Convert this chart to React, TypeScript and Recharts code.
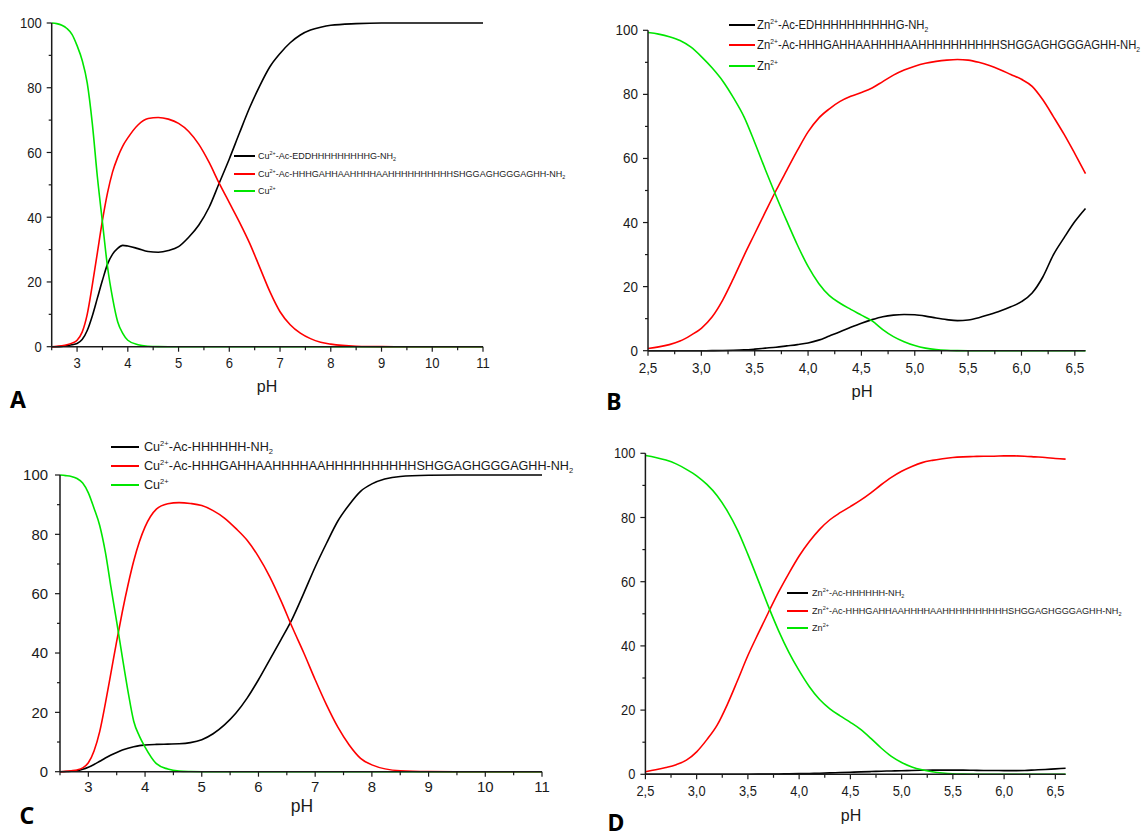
import React from 'react';
import { LineChart, Line, XAxis, YAxis, Legend } from 'recharts';

const FONT = '"Liberation Sans", Arial, Helvetica, sans-serif';
const AXIS = '#1a1a1a';
const TEXT = '#1a1a1a';
const C_BLACK = '#000000';
const C_RED = '#ff0000';
const C_GREEN = '#00e600';

// ---------- shared ticks ----------
const yTicks = [0, 10, 20, 30, 40, 50, 60, 70, 80, 90, 100];
const yMajor = [0, 20, 40, 60, 80, 100];
const yLabels = ['0', '20', '40', '60', '80', '100'];
const xTicksAC = [2.5, 3, 3.5, 4, 4.5, 5, 5.5, 6, 6.5, 7, 7.5, 8, 8.5, 9, 9.5, 10, 10.5, 11];
const xMajorAC = [3, 4, 5, 6, 7, 8, 9, 10, 11];
const xLabelsAC = ['3', '4', '5', '6', '7', '8', '9', '10', '11'];
const xTicksBD = [2.5, 2.75, 3, 3.25, 3.5, 3.75, 4, 4.25, 4.5, 4.75, 5, 5.25, 5.5, 5.75, 6, 6.25, 6.5];
const xMajorBD = [2.5, 3, 3.5, 4, 4.5, 5, 5.5, 6, 6.5];
const xLabelsBD = ['2,5', '3,0', '3,5', '4,0', '4,5', '5,0', '5,5', '6,0', '6,5'];

// ---------- Panel A (Cu2+, EDD peptide) ----------
const phA = [2.5, 2.6, 2.7, 2.8, 2.9, 3.0, 3.1, 3.2, 3.3, 3.4, 3.5, 3.6, 3.7, 3.8, 3.9, 4.0, 4.2, 4.4, 4.6, 4.8, 5.0, 5.2, 5.4, 5.6, 5.8, 6.0, 6.2, 6.4, 6.6, 6.8, 7.0, 7.2, 7.4, 7.6, 7.8, 8.0, 8.5, 9.0, 9.5, 10, 10.5, 11];
const blackA = [0, 0, 0.1, 0.3, 0.6, 1.0, 2.2, 5, 9.5, 15, 20.5, 25.5, 28.6, 30.4, 31.3, 31.1, 30.3, 29.4, 29.2, 29.7, 30.9, 33.8, 37.6, 43, 50.5, 58, 66, 73.8, 80.6, 86.5, 90.6, 93.9, 96.3, 97.8, 98.7, 99.3, 99.8, 100, 100, 100, 100, 100];
const redA = [0, 0.1, 0.3, 0.6, 1.1, 2, 4.5, 10, 19, 29, 39, 47.5, 54, 58.5, 62, 64.5, 68.5, 70.5, 70.8, 70.3, 69, 66.5, 62.5, 57, 50.5, 44.5, 38.5, 32, 24.5, 17, 10.8, 6.8, 4.2, 2.5, 1.4, 0.8, 0.15, 0.02, 0, 0, 0, 0];
const greenA = [100, 99.8, 99.3, 98.3, 96.5, 93, 88.5, 81.5, 69, 52.5, 38.5, 24.7, 15, 7.7, 4.1, 2, 0.6, 0.15, 0.03, 0, 0, 0, 0, 0, 0, 0, 0, 0, 0, 0, 0, 0, 0, 0, 0, 0, 0, 0, 0, 0, 0, 0];
const namesA = ['Cu2+-Ac-EDDHHHHHHHHHG-NH2', 'Cu2+-Ac-HHHGAHHAAHHHHAAHHHHHHHHHHSHGGAGHGGGAGHH-NH2', 'Cu2+'];

// ---------- Panel B (Zn2+, ED peptide) ----------
const phB = [2.5, 2.6, 2.7, 2.8, 2.9, 3.0, 3.1, 3.2, 3.3, 3.4, 3.5, 3.6, 3.7, 3.8, 3.9, 4.0, 4.1, 4.2, 4.3, 4.4, 4.5, 4.6, 4.7, 4.8, 4.9, 5.0, 5.1, 5.2, 5.3, 5.4, 5.5, 5.6, 5.7, 5.8, 5.9, 6.0, 6.1, 6.2, 6.3, 6.4, 6.5, 6.6];
const blackB = [0, 0, 0, 0, 0, 0, 0.02, 0.05, 0.12, 0.25, 0.5, 0.8, 1.1, 1.5, 1.9, 2.4, 3.3, 4.6, 5.9, 7.3, 8.6, 9.7, 10.6, 11.1, 11.3, 11.2, 10.8, 10.2, 9.7, 9.4, 9.6, 10.3, 11.3, 12.4, 13.7, 15.3, 18, 23, 30, 35.3, 40.3, 44.4];
const redB = [0.7, 1.2, 1.9, 3.0, 4.8, 7, 10.5, 15.8, 22.5, 29.7, 36.5, 43.3, 50, 56.3, 62.5, 68.3, 72.6, 75.5, 77.8, 79.4, 80.6, 82, 84, 86, 87.6, 88.8, 89.7, 90.3, 90.7, 90.9, 90.7, 90, 89, 87.7, 86.2, 84.7, 82.5, 78.3, 73, 67.5, 61.5, 55.3];
const greenB = [99.3, 98.8, 98, 96.8, 94.8, 91.8, 88.3, 84.2, 79, 73, 65, 56.5, 48.3, 40.5, 33, 26.3, 21, 17.2, 14.8, 12.9, 11.1, 9.3, 6.6, 4.4, 2.8, 1.6, 0.8, 0.35, 0.12, 0.03, 0, 0, 0, 0, 0, 0, 0, 0, 0, 0, 0, 0];
const namesB = ['Zn2+-Ac-EDHHHHHHHHHHG-NH2', 'Zn2+-Ac-HHHGAHHAAHHHHAAHHHHHHHHHHSHGGAGHGGGAGHH-NH2', 'Zn2+'];

// ---------- Panel C (Cu2+, H6 peptide) ----------
const phC = [2.5, 2.6, 2.7, 2.8, 2.9, 3.0, 3.1, 3.2, 3.3, 3.4, 3.5, 3.6, 3.7, 3.8, 3.9, 4.0, 4.2, 4.4, 4.6, 4.8, 5.0, 5.2, 5.4, 5.6, 5.8, 6.0, 6.2, 6.4, 6.6, 6.8, 7.0, 7.2, 7.4, 7.6, 7.8, 8.0, 8.5, 9.0, 9.5, 10, 10.5, 11];
const blackC = [0, 0.05, 0.15, 0.3, 0.8, 1.5, 2.4, 3.5, 4.6, 5.6, 6.5, 7.3, 7.9, 8.4, 8.8, 9.0, 9.2, 9.3, 9.4, 9.8, 10.8, 12.8, 15.8, 19.7, 24.8, 31, 37.8, 44.6, 51.7, 60.2, 69, 77, 84.5, 90, 94.5, 97, 99.5, 99.9, 100, 100, 100, 100];
const redC = [0, 0.1, 0.3, 0.6, 1.3, 3, 7, 13.5, 23, 33.5, 44, 54, 63, 71, 77.5, 82.5, 88.5, 90.3, 90.7, 90.4, 89.7, 88, 85.5, 82, 78, 72.5, 65.7, 57.5, 48.5, 40, 31, 22.5, 15, 9, 4.5, 2.3, 0.3, 0.05, 0, 0, 0, 0];
const greenC = [100, 99.8, 99.5, 98.8, 97.3, 94, 88.8, 83, 74, 62, 50.5, 38.5, 27, 17, 12, 8.3, 2.7, 0.9, 0.2, 0.05, 0, 0, 0, 0, 0, 0, 0, 0, 0, 0, 0, 0, 0, 0, 0, 0, 0, 0, 0, 0, 0, 0];
const namesC = ['Cu2+-Ac-HHHHHH-NH2', 'Cu2+-Ac-HHHGAHHAAHHHHAAHHHHHHHHHHSHGGAGHGGGAGHH-NH2', 'Cu2+'];

// ---------- Panel D (Zn2+, H6 peptide) ----------
const phD = [2.5, 2.6, 2.7, 2.8, 2.9, 3.0, 3.1, 3.2, 3.3, 3.4, 3.5, 3.6, 3.7, 3.8, 3.9, 4.0, 4.1, 4.2, 4.3, 4.4, 4.5, 4.6, 4.7, 4.8, 4.9, 5.0, 5.1, 5.2, 5.3, 5.4, 5.5, 5.6, 5.7, 5.8, 5.9, 6.0, 6.1, 6.2, 6.3, 6.4, 6.5, 6.6];
const blackD = [0, 0, 0, 0, 0, 0, 0, 0, 0, 0, 0.03, 0.05, 0.08, 0.1, 0.15, 0.2, 0.25, 0.35, 0.45, 0.55, 0.65, 0.75, 0.85, 0.95, 1.05, 1.1, 1.2, 1.25, 1.3, 1.3, 1.3, 1.3, 1.25, 1.2, 1.2, 1.15, 1.15, 1.2, 1.35, 1.5, 1.7, 1.9];
const redD = [0.8, 1.4, 2.1, 3.0, 4.4, 7, 10.8, 15.3, 21.8, 29.3, 37, 43.8, 50.4, 56.8, 62.6, 68, 72.5, 76.3, 79.3, 81.5, 83.4, 85.4, 87.7, 90.2, 92.5, 94.4, 95.9, 97.1, 97.8, 98.3, 98.7, 98.9, 99, 99.1, 99.1, 99.2, 99.2, 99.1, 98.9, 98.7, 98.4, 98.2];
const greenD = [99.3, 98.7, 97.9, 96.7, 95, 93, 90.3, 86.8, 82, 76, 68.5, 60.5, 52.3, 44.7, 38, 32.3, 27.3, 23.3, 20.4, 18.2, 16.2, 14, 11.2, 8.2, 5.6, 3.7, 2.3, 1.4, 0.8, 0.4, 0.15, 0.05, 0, 0, 0, 0, 0, 0, 0, 0, 0, 0];
const namesD = ['Zn2+-Ac-HHHHHH-NH2', 'Zn2+-Ac-HHHGAHHAAHHHHAAHHHHHHHHHHSHGGAGHGGGAGHH-NH2', 'Zn2+'];

type Leg = { left: number; top: number; rowH: number; line: number; gap: number; fs: number; sx: number };
type P = {
  left: number; top: number; width: number; height: number;
  x0: number; x1: number; y0: number; y1: number;
  domain: [number, number];
  xTicks: number[]; xMajor: number[]; xLabels: string[];
  ph: number[]; black: number[]; red: number[]; green: number[]; names: string[];
  tickFs: number; tickSx: number; xLabelDy: number; yGap: number; leg: Leg;
};

// leg.top = centre of the first legend row (relative to panel), rowH = spacing between rows
const panels: P[] = [
  {
    left: 0, top: 0, width: 570, height: 420, x0: 51.7, x1: 483, y0: 23, y1: 346.7, domain: [2.5, 11],
    xTicks: xTicksAC, xMajor: xMajorAC, xLabels: xLabelsAC,
    ph: phA, black: blackA, red: redA, green: greenA, names: namesA,
    tickFs: 15, tickSx: 0.87, xLabelDy: 21.4, yGap: 10,
    leg: { left: 234, top: 156, rowH: 17.5, line: 21, gap: 3, fs: 9.3, sx: 0.97 },
  },
  {
    left: 580, top: 0, width: 563, height: 420, x0: 648, x1: 1085.5, y0: 30.3, y1: 350.7, domain: [2.5, 6.6],
    xTicks: xTicksBD, xMajor: xMajorBD, xLabels: xLabelsBD,
    ph: phB, black: blackB, red: redB, green: greenB, names: namesB,
    tickFs: 14, tickSx: 0.96, xLabelDy: 22, yGap: 10,
    leg: { left: 149, top: 25, rowH: 20.3, line: 26, gap: 2, fs: 12, sx: 0.94 },
  },
  {
    left: 0, top: 420, width: 570, height: 417, x0: 60, x1: 542, y0: 475, y1: 771.7, domain: [2.5, 11],
    xTicks: xTicksAC, xMajor: xMajorAC, xLabels: xLabelsAC,
    ph: phC, black: blackC, red: redC, green: greenC, names: namesC,
    tickFs: 14.5, tickSx: 1.03, xLabelDy: 20.2, yGap: 12,
    leg: { left: 111, top: 27, rowH: 19, line: 28, gap: 5, fs: 12.6, sx: 1 },
  },
  {
    left: 580, top: 420, width: 563, height: 417, x0: 645.4, x1: 1065.6, y0: 453.3, y1: 774.3, domain: [2.5, 6.6],
    xTicks: xTicksBD, xMajor: xMajorBD, xLabels: xLabelsBD,
    ph: phD, black: blackD, red: redD, green: greenD, names: namesD,
    tickFs: 14, tickSx: 0.92, xLabelDy: 21.4, yGap: 10,
    leg: { left: 207, top: 173, rowH: 17.5, line: 21, gap: 4, fs: 9.3, sx: 0.98 },
  },
];

const axisTitles = [
  { x: 267, y: 388, fs: 16 },
  { x: 862, y: 393, fs: 16.5 },
  { x: 302, y: 808, fs: 17.5 },
  { x: 851, y: 817, fs: 16 },
];
const LETTER_FS = 23;
const panelLetters = [
  { t: 'A', x: 18, y: 400 },
  { t: 'B', x: 614, y: 401.7 },
  { t: 'C', x: 27, y: 815.5 },
  { t: 'D', x: 616, y: 822.5 },
];

const supStyle: React.CSSProperties = { fontSize: '0.6em', position: 'relative', top: '-0.7em' };
const subStyle: React.CSSProperties = { fontSize: '0.6em', position: 'relative', top: '0.4em' };

function Formula({ text }: { text: string }) {
  const m = text.match(/^([A-Z][a-z]?)2\+(.*)$/);
  if (!m) return <>{text}</>;
  let rest = m[2];
  let sub: string | null = null;
  if (rest.endsWith('NH2')) {
    rest = rest.slice(0, -1);
    sub = '2';
  }
  return (
    <>
      {m[1]}
      <span style={supStyle}>2+</span>
      {rest}
      {sub && <span style={subStyle}>{sub}</span>}
    </>
  );
}

function LegendBox({ payload, p }: { payload: any[]; p: P }) {
  const items = [...(payload || [])].sort(
    (a, b) => p.names.indexOf(String(a.value)) - p.names.indexOf(String(b.value))
  );
  const leg = p.leg;
  const lh = 16;
  return (
    <div style={{ position: 'relative', fontFamily: FONT, fontSize: leg.fs, color: TEXT, whiteSpace: 'nowrap' }}>
      {items.map((e, i) => {
        const cy = Math.round(i * leg.rowH);
        return (
          <div key={i} style={{ position: 'absolute', left: 0, top: cy - lh / 2, height: lh }}>
            <div style={{ position: 'absolute', left: 0, top: lh / 2 - 1, width: leg.line, height: 2, background: e.color }} />
            <div
              style={{
                position: 'absolute',
                left: leg.line + leg.gap,
                top: 0,
                height: lh,
                lineHeight: lh + 'px',
                transform: `scaleX(${leg.sx})`,
                transformOrigin: 'left center',
              }}
            >
              <Formula text={String(e.value)} />
            </div>
          </div>
        );
      })}
    </div>
  );
}

function XTick(props: any) {
  const { x, y, payload, p } = props;
  const v = payload.value;
  const idx = p.xMajor.findIndex((m: number) => Math.abs(m - v) < 1e-6);
  const major = idx >= 0;
  return (
    <g>
      <line x1={x} x2={x} y1={y} y2={y + (major ? 5 : 3.5)} stroke={AXIS} strokeWidth={1.2} />
      {major && (
        <text
          transform={`translate(${x},${y + p.xLabelDy}) scale(${p.tickSx},1)`}
          textAnchor="middle"
          fontSize={p.tickFs}
          fontFamily={FONT}
          fill={TEXT}
        >
          {p.xLabels[idx]}
        </text>
      )}
    </g>
  );
}

function YTick(props: any) {
  const { x, y, payload, p } = props;
  const v = payload.value;
  const idx = yMajor.findIndex((m) => Math.abs(m - v) < 1e-6);
  const major = idx >= 0;
  return (
    <g>
      <line x1={x - (major ? 5 : 3)} x2={x} y1={y} y2={y} stroke={AXIS} strokeWidth={1.2} />
      {major && (
        <text
          transform={`translate(${x - p.yGap},${y + 0.358 * p.tickFs}) scale(${p.tickSx},1)`}
          textAnchor="end"
          fontSize={p.tickFs}
          fontFamily={FONT}
          fill={TEXT}
        >
          {yLabels[idx]}
        </text>
      )}
    </g>
  );
}

function Panel({ p }: { p: P }) {
  const rows = p.ph.map((v, i) => ({ pH: v, black: p.black[i], red: p.red[i], green: p.green[i] }));
  const xAxisH = 30;
  const margin = {
    top: p.y0 - p.top,
    right: p.left + p.width - p.x1,
    left: 0,
    bottom: p.top + p.height - p.y1 - xAxisH,
  };
  return (
    <div style={{ position: 'absolute', left: p.left, top: p.top }}>
      <LineChart width={p.width} height={p.height} data={rows} margin={margin}>
        <XAxis
          type="number"
          dataKey="pH"
          domain={p.domain}
          ticks={p.xTicks}
          interval={0}
          height={xAxisH}
          tickSize={0}
          tickMargin={0}
          tickLine={false}
          axisLine={{ stroke: AXIS, strokeWidth: 1.5 }}
          tick={(t: any) => <XTick {...t} p={p} />}
        />
        <YAxis
          type="number"
          domain={[0, 100]}
          ticks={yTicks}
          interval={0}
          width={p.x0 - p.left}
          tickSize={0}
          tickMargin={0}
          tickLine={false}
          axisLine={{ stroke: AXIS, strokeWidth: 1.5 }}
          tick={(t: any) => <YTick {...t} p={p} />}
        />
        <Legend
          layout="vertical"
          align="center"
          verticalAlign="middle"
          wrapperStyle={{ left: p.leg.left, top: p.leg.top, width: 'auto', height: 'auto' }}
          content={(lp: any) => <LegendBox payload={lp.payload} p={p} />}
        />
        <Line type="monotone" dataKey="black" name={p.names[0]} stroke={C_BLACK} strokeWidth={1.6} dot={false} activeDot={false} isAnimationActive={false} />
        <Line type="monotone" dataKey="red" name={p.names[1]} stroke={C_RED} strokeWidth={1.6} dot={false} activeDot={false} isAnimationActive={false} />
        <Line type="monotone" dataKey="green" name={p.names[2]} stroke={C_GREEN} strokeWidth={1.6} dot={false} activeDot={false} isAnimationActive={false} />
      </LineChart>
    </div>
  );
}

export default function App() {
  return (
    <div style={{ position: 'absolute', left: 0, top: 0, width: 1143, height: 837, background: '#ffffff', overflow: 'hidden' }}>
      {panels.map((p, i) => (
        <Panel key={i} p={p} />
      ))}
      <svg width={1143} height={837} style={{ position: 'absolute', left: 0, top: 0, pointerEvents: 'none' }}>
        {axisTitles.map((a, i) => (
          <text key={'t' + i} x={a.x} y={a.y + 0.253 * a.fs} textAnchor="middle" fontSize={a.fs} fontFamily={FONT} fill={TEXT}>
            pH
          </text>
        ))}
        {panelLetters.map((l) => (
          <text key={l.t} x={l.x} y={l.y + 0.357 * LETTER_FS} textAnchor="middle" fontSize={LETTER_FS} fontWeight={700} fontFamily={'"Noto Sans", "Open Sans", sans-serif'} fill="#000">
            {l.t}
          </text>
        ))}
      </svg>
    </div>
  );
}
